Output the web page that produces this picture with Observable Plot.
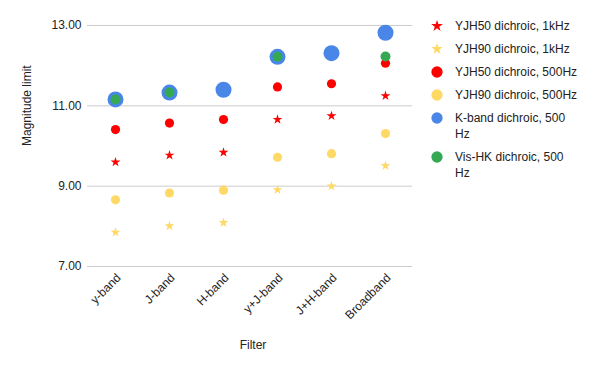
<!DOCTYPE html>
<html>
<head>
<meta charset="utf-8">
<script src="https://cdn.jsdelivr.net/npm/d3@7"></script>
<script src="https://cdn.jsdelivr.net/npm/@observablehq/plot@0.6"></script>
<style>
  body { margin: 0; background: #fff; font-family: "Liberation Sans", Arial, sans-serif; }
  #wrap { position: relative; width: 600px; height: 371px; }
  #legend { position: absolute; left: 430px; top: 18px; font-size: 12px; color: #222; }
  .row { display: flex; align-items: flex-start; margin-bottom: 7px; line-height: 16px; }
  .row svg { flex: none; margin-right: 11px; }
  .row span { width: 125px; }
</style>
</head>
<body>
<div id="wrap"><div id="legend"></div></div>
<script>
const filters = ["y-band", "J-band", "H-band", "y+J-band", "J+H-band", "Broadband"];
const yjh50_1k   = [9.60, 9.77, 9.84, 10.66, 10.75, 11.25];
const yjh90_1k   = [7.85, 8.01, 8.09, 8.91, 9.00, 9.51];
const yjh50_500  = [10.41, 10.57, 10.66, 11.47, 11.55, 12.06];
const yjh90_500  = [8.66, 8.83, 8.90, 9.72, 9.81, 10.31];
const kband_500  = [11.16, 11.33, 11.40, 12.22, 12.31, 12.82];
const vishk_500  = [11.16, 11.33, null, 12.22, null, 12.23];
const yTicks = [7, 9, 11, 13];

const series = [
  {name: "YJH50 dichroic, 1kHz", values: yjh50_1k, color: "#ff0000", symbol: "star", r: 3.1},
  {name: "YJH90 dichroic, 1kHz", values: yjh90_1k, color: "#ffd966", symbol: "star", r: 3.1},
  {name: "YJH50 dichroic, 500Hz", values: yjh50_500, color: "#ff0000", symbol: "circle", r: 4.6},
  {name: "YJH90 dichroic, 500Hz", values: yjh90_500, color: "#ffd966", symbol: "circle", r: 4.6},
  {name: "K-band dichroic, 500 Hz", values: kband_500, color: "#4a86e8", symbol: "circle", r: 8},
  {name: "Vis-HK dichroic, 500 Hz", values: vishk_500, color: "#34a853", symbol: "circle", r: 5}
];

const marks = [
  Plot.ruleY(yTicks, {stroke: "#cccccc", strokeWidth: 1}),
  Plot.axisY({ticks: yTicks, tickFormat: d3.format(".2f"), tickSize: 0, tickPadding: 6,
    fontSize: 12, color: "#222", label: null}),
  Plot.text(filters, {x: d => d, frameAnchor: "bottom", dy: 12, dx: 6, rotate: -45,
    textAnchor: "end", fontSize: 12, fill: "#222"}),
  Plot.text(["Filter"], {frameAnchor: "bottom", dy: 82, dx: 3, fontSize: 12, fill: "#222"}),
  Plot.text(["Magnitude limit"], {frameAnchor: "left", dx: -60, rotate: -90, fontSize: 12, fill: "#222"})
];
for (const s of series) {
  const rows = filters.map((f, i) => ({f, v: s.values[i]})).filter(d => d.v != null);
  marks.push(Plot.dot(rows, {x: "f", y: "v", r: s.r, symbol: () => s.symbol, fill: s.color, stroke: "none"}));
}

const chart = Plot.plot({
  width: 600, height: 371,
  marginLeft: 87, marginRight: 188, marginTop: 25, marginBottom: 105,
  style: {fontFamily: "'Liberation Sans', Arial, sans-serif", fontSize: "12px", background: "#fff"},
  x: {type: "point", domain: filters, padding: 0.5, axis: null},
  y: {domain: [7, 13], axis: null},
  symbol: {type: "identity"},
  marks
});
document.getElementById("wrap").prepend(chart);

const legend = document.getElementById("legend");
for (const s of series) {
  const row = document.createElement("div");
  row.className = "row";
  const path = s.symbol === "star" ? d3.symbol(d3.symbolStar, 42)() : d3.symbol(d3.symbolCircle, 100)();
  row.innerHTML = `<svg width="14" height="16" viewBox="-7 -8 14 16"><path d="${path}" fill="${s.color}"/></svg><span>${s.name}</span>`;
  legend.appendChild(row);
}
</script>
</body>
</html>
